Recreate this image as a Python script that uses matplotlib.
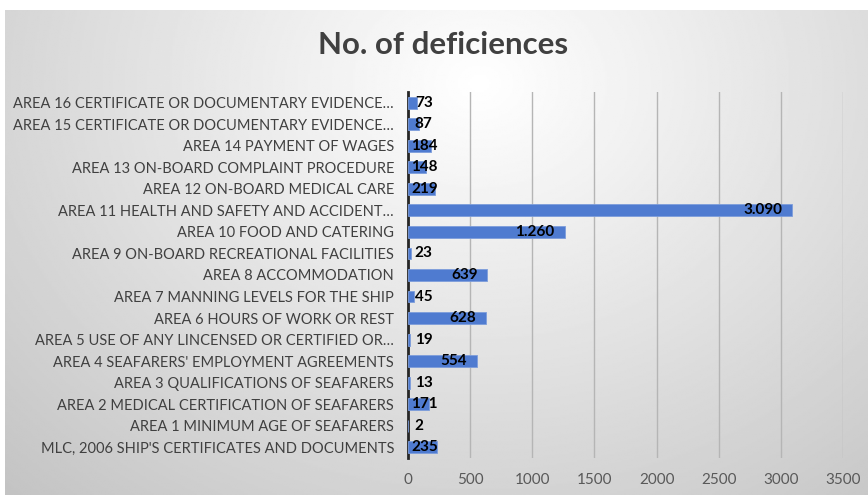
import numpy as np
import matplotlib
matplotlib.use("Agg")
import matplotlib.pyplot as plt

categories = [
    "MLC, 2006 SHIP'S CERTIFICATES AND DOCUMENTS",
    "AREA 1 MINIMUM AGE OF SEAFARERS",
    "AREA 2 MEDICAL CERTIFICATION OF SEAFARERS",
    "AREA 3 QUALIFICATIONS OF SEAFARERS",
    "AREA 4 SEAFARERS' EMPLOYMENT AGREEMENTS",
    "AREA 5 USE OF ANY LINCENSED OR CERTIFIED OR…",
    "AREA 6 HOURS OF WORK OR REST",
    "AREA 7 MANNING LEVELS FOR THE SHIP",
    "AREA 8 ACCOMMODATION",
    "AREA 9 ON-BOARD RECREATIONAL FACILITIES",
    "AREA 10 FOOD AND CATERING",
    "AREA 11 HEALTH AND SAFETY AND ACCIDENT…",
    "AREA 12 ON-BOARD MEDICAL CARE",
    "AREA 13 ON-BOARD COMPLAINT PROCEDURE",
    "AREA 14 PAYMENT OF WAGES",
    "AREA 15 CERTIFICATE OR DOCUMENTARY EVIDENCE…",
    "AREA 16 CERTIFICATE OR DOCUMENTARY EVIDENCE…",
]
deficiencies = [235, 2, 171, 13, 554, 19, 628, 45, 639, 23, 1260, 3090, 219, 148, 184, 87, 73]
x_ticks = [0, 500, 1000, 1500, 2000, 2500, 3000, 3500]

plt.rcParams['font.family'] = ['Lato', 'DejaVu Sans']
txt = '#404040'

fig = plt.figure(figsize=(8.68, 4.95), dpi=100)
fig.patch.set_facecolor('white')

# gradient background of the chart area
bg = fig.add_axes([5 / 868, 0, 863 / 868, 1 - 10 / 495], zorder=0)
yy, xx = np.mgrid[0:1:300j, 0:1:500j]
r = np.sqrt(((xx - 0.55) / 0.75) ** 2 + ((yy - 0.15) / 1.1) ** 2)
shade = np.clip(1.0 - 0.22 * r, 0.76, 1.0)
bg.imshow(shade, cmap='gray', vmin=0, vmax=1, aspect='auto', extent=[0, 1, 0, 1], origin='upper')
bg.axis('off')

ax = fig.add_axes([408 / 868, 1 - 458 / 495, (843 - 408) / 868, (458 - 92) / 495], zorder=1)
ax.patch.set_alpha(0)

y = np.arange(len(categories))
ax.barh(y, deficiencies, height=0.55, color='#4F7BD0', edgecolor='#7d9ddb', linewidth=0.6, zorder=3)

for yi, v in zip(y, deficiencies):
    label = f"{v:,}".replace(",", ".")
    if v < 100:
        ax.text(55, yi, label, ha='left', va='center', fontsize=11, fontweight='bold', color='black', zorder=4)
    elif v < 400:
        ax.text(25, yi, label, ha='left', va='center', fontsize=11, fontweight='bold', color='black', zorder=4)
    else:
        ax.text(v - 80, yi, label, ha='right', va='center', fontsize=11, fontweight='bold', color='black', zorder=4)

ax.set_xlim(0, 3500)
ax.set_ylim(-0.5, len(categories) - 0.5)
ax.set_xticks(x_ticks)
ax.set_xticklabels([str(t) for t in x_ticks], color='#595959', fontsize=11)
ax.set_yticks(y)
ax.set_yticklabels(categories, color=txt, fontsize=10.5)
ax.tick_params(axis='x', length=0, pad=11)
ax.tick_params(axis='y', length=0, pad=10)
ax.xaxis.grid(True, color='#b5b5b5', linewidth=1, zorder=0)
ax.set_axisbelow(True)
for s in ['top', 'right', 'bottom']:
    ax.spines[s].set_visible(False)
ax.spines['left'].set_color('#262626')
ax.spines['left'].set_linewidth(2)

fig.text(443 / 868, 1 - 45 / 495, "No. of deficiences", ha='center', va='center',
         fontsize=22.5, fontweight='bold', color=txt)

fig.savefig('out.png', dpi=100)
